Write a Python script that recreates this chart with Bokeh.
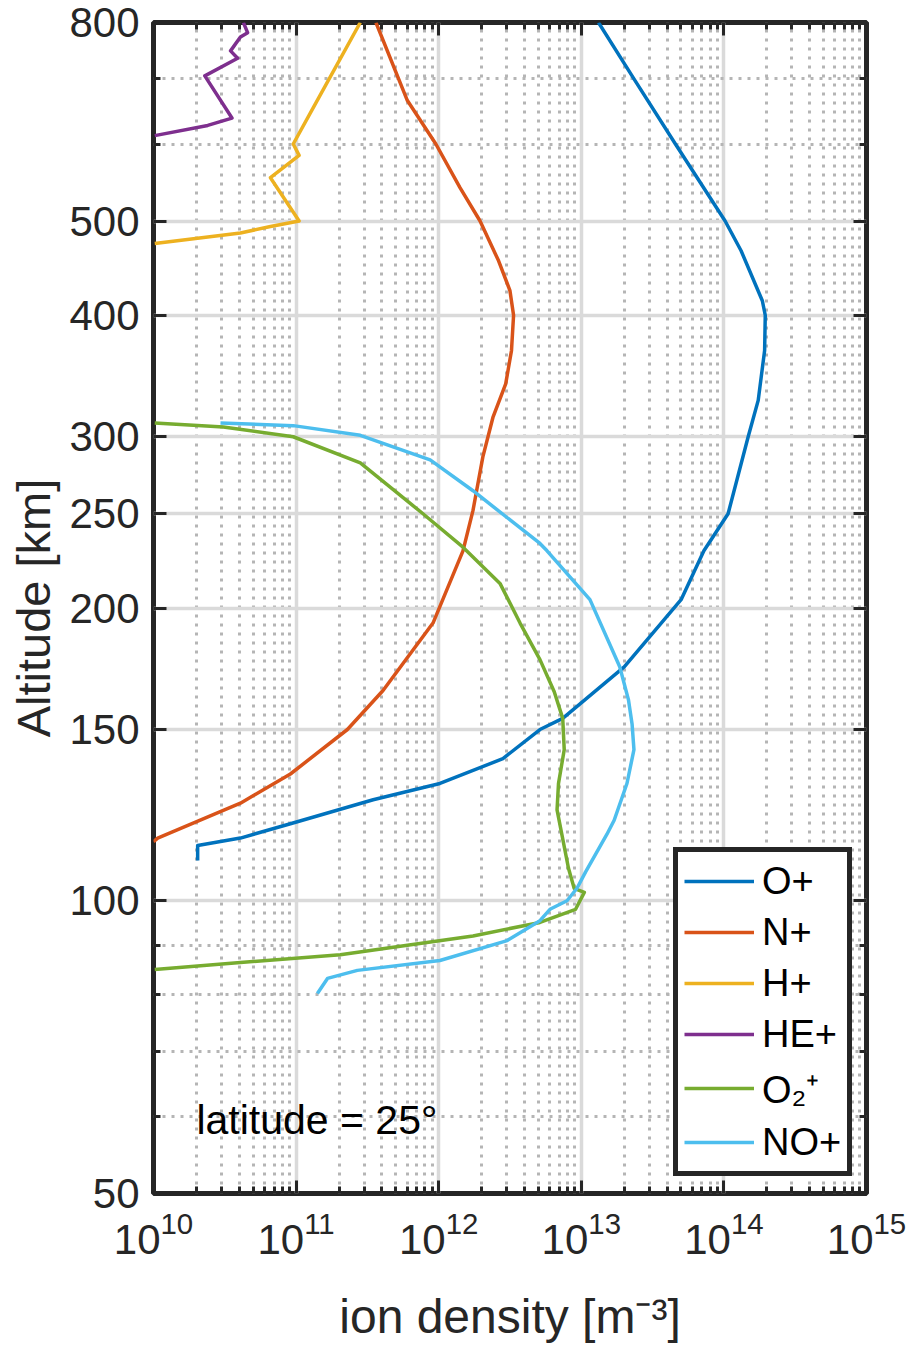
from bokeh.plotting import figure
from bokeh.models import (FixedTicker, LogAxis, Label, Legend, LegendItem, PrintfTickFormatter,
                          CustomJSTickFormatter, LogTickFormatter)
from bokeh.embed import file_html
from bokeh.resources import INLINE

# ---------------- data (altitude in km, ion density in m^-3) ----------------
op_alt = [800, 700, 600, 500, 466, 414, 400, 368, 327, 300, 250, 229, 204, 174, 154, 150, 140, 132, 127, 120, 116, 114, 110]
op_den = [1.32e13, 2.34e13, 4.57e13, 1.02e14, 1.32e14, 1.86e14, 1.95e14, 1.93e14, 1.74e14, 1.48e14, 1.07e14, 7.24e13,
          5.01e13, 2.0e13, 7.41e12, 5.13e12, 2.82e12, 1.02e12, 3.47e11, 9.12e10, 4.07e10, 2.04e10, 2.04e10]

np_alt = [800, 665, 600, 541, 500, 455, 424, 400, 368, 340, 314, 286, 252, 229, 193, 164.5, 150, 135, 126, 116, 115]
np_den = [3.63e11, 6.03e11, 9.55e11, 1.41e12, 1.95e12, 2.63e12, 3.16e12, 3.35e12, 3.24e12, 2.95e12, 2.40e12, 2.04e12,
          1.74e12, 1.48e12, 9.12e11, 4.07e11, 2.29e11, 9.12e10, 4.07e10, 1.07e10, 1.0e10]

hp_alt = [800, 654, 600, 584, 554, 500, 493.5, 486, 474]
hp_den = [2.82e11, 1.32e11, 9.55e10, 1.05e11, 6.61e10, 1.05e11, 6.61e10, 4.07e10, 1.02e10]

hep_alt = [800, 781, 773, 748, 735, 705, 638, 627, 612]
hep_den = [4.27e10, 4.57e10, 4.07e10, 3.47e10, 3.89e10, 2.29e10, 3.55e10, 2.40e10, 1.02e10]

o2p_alt = [310, 307, 300, 282, 250, 231, 212, 193, 177, 164, 154, 143, 132, 124, 108, 103, 102, 98, 95, 92, 90, 88,
           86.4, 85]
o2p_den = [1.02e10, 3.09e10, 9.55e10, 2.82e11, 7.76e11, 1.48e12, 2.69e12, 3.72e12, 5.13e12, 6.46e12, 7.41e12, 7.59e12,
           6.92e12, 6.76e12, 8.13e12, 8.91e12, 1.05e13, 9.12e12, 5.13e12, 1.74e12, 6.03e11, 2.04e11, 4.07e10, 1.02e10]

nop_alt = [310, 308, 301, 284, 264, 233, 229, 204, 174, 161, 152, 143, 132, 121, 117, 107, 103, 100, 98, 95.4, 91, 86.8,
           84.8, 83.2, 80.3]
nop_den = [2.95e10, 9.55e10, 2.82e11, 8.71e11, 1.74e12, 5.13e12, 5.75e12, 1.15e13, 1.86e13, 2.14e13, 2.27e13, 2.34e13,
           2.09e13, 1.70e13, 1.51e13, 1.07e13, 9.33e12, 7.94e12, 6.03e12, 5.13e12, 3.02e12, 1.02e12, 2.69e11, 1.66e11,
           1.41e11]

species = ["O+", "N+", "H+", "HE+", "O\u2082\u207a", "NO+"]
colors = ["#0072BD", "#D95319", "#EDB120", "#7E2F8E", "#77AC30", "#4DBEEE"]

x_exponents = [10, 11, 12, 13, 14, 15]
y_ticks = [50, 100, 150, 200, 250, 300, 400, 500, 800]
y_minor = [60, 70, 80, 90, 600, 700]
annotation_text = "latitude = 25\u00b0"
y_title = "Altitude [km]"
x_title = "ion density [m\u207b\u00b3]"

FONT = "Liberation Sans"
TXT = "#262626"

# ---------------- figure ----------------
p = figure(width=915, height=1352, x_axis_type="log", y_axis_type="log",
           x_range=(1e10, 1e15), y_range=(50, 800),
           min_border_left=153, min_border_right=49, min_border_top=22, min_border_bottom=159,
           output_backend="svg", toolbar_location=None)
p.background_fill_color = "white"
p.border_fill_color = "white"
p.outline_line_color = TXT
p.outline_line_width = 5

xt = FixedTicker(ticks=[10.0 ** e for e in x_exponents],
                 minor_ticks=[m * 10.0 ** e for e in x_exponents[:-1] for m in range(2, 10)])
yt = FixedTicker(ticks=y_ticks, minor_ticks=y_minor)

left = p.left[0]
bottom = p.below[0]
left.ticker = yt
bottom.ticker = xt
top = LogAxis(ticker=xt)
right = LogAxis(ticker=yt)
p.add_layout(top, "above")
p.add_layout(right, "right")

for ax in (left, bottom, top, right):
    ax.axis_line_color = None
    ax.major_tick_in = 13
    ax.major_tick_out = 0
    ax.minor_tick_in = 7
    ax.minor_tick_out = 0
    ax.major_tick_line_color = TXT
    ax.minor_tick_line_color = TXT
    ax.major_tick_line_width = 3
    ax.minor_tick_line_width = 3

for ax in (top, right):
    ax.formatter = CustomJSTickFormatter(code="return ''")
    ax.major_label_text_font_size = "8px"
    ax.major_label_text_color = None
    ax.major_label_standoff = 0

left.formatter = PrintfTickFormatter(format="%d")
left.major_label_text_font = FONT
left.major_label_text_font_size = "42px"
left.major_label_text_color = TXT
left.major_label_standoff = 14
left.axis_label = y_title
left.axis_label_text_font = FONT
left.axis_label_text_font_size = "47px"
left.axis_label_text_font_style = "normal"
left.axis_label_text_color = TXT
left.axis_label_standoff = 6

bottom.formatter = LogTickFormatter()
bottom.major_label_text_font = FONT
bottom.major_label_text_font_size = "42px"
bottom.major_label_text_color = TXT
bottom.major_label_standoff = 17
bottom.axis_label = x_title
bottom.axis_label_text_font = FONT
bottom.axis_label_text_font_size = "48px"
bottom.axis_label_text_font_style = "normal"
bottom.axis_label_text_color = TXT
bottom.axis_label_standoff = 33

p.xgrid.ticker = xt
p.ygrid.ticker = yt
for g in (p.xgrid, p.ygrid):
    g.grid_line_color = "#DADADA"
    g.grid_line_width = 3.5
    g.minor_grid_line_color = "#B5B5B5"
    g.minor_grid_line_width = 3
    g.minor_grid_line_dash = "3 6"

# ---------------- curves ----------------
series = [(op_den, op_alt), (np_den, np_alt), (hp_den, hp_alt), (hep_den, hep_alt), (o2p_den, o2p_alt), (nop_den, nop_alt)]
items = []
for (xs, ys), name, c in zip(series, species, colors):
    r = p.line(x=xs, y=ys, line_color=c, line_width=3.5, line_join="round")
    items.append(LegendItem(label=name, renderers=[r]))

legend = Legend(items=items, location=(520, 17))
legend.label_text_font = FONT
legend.label_text_font_size = "38px"
legend.label_text_color = "black"
legend.glyph_width = 70
legend.glyph_height = 46
legend.label_height = 46
legend.spacing = 5
legend.padding = 6
legend.margin = 0
legend.label_standoff = 8
legend.border_line_color = TXT
legend.border_line_alpha = 1
legend.border_line_width = 5
legend.background_fill_color = "white"
legend.background_fill_alpha = 1
p.add_layout(legend)

# ---------------- annotation ----------------
p.add_layout(Label(x=2e10, y=59.5, text=annotation_text, text_font=FONT, text_font_size="41px",
                   text_color="black", text_baseline="middle", text_align="left"))

open("out.html", "w").write(file_html(p, INLINE))
